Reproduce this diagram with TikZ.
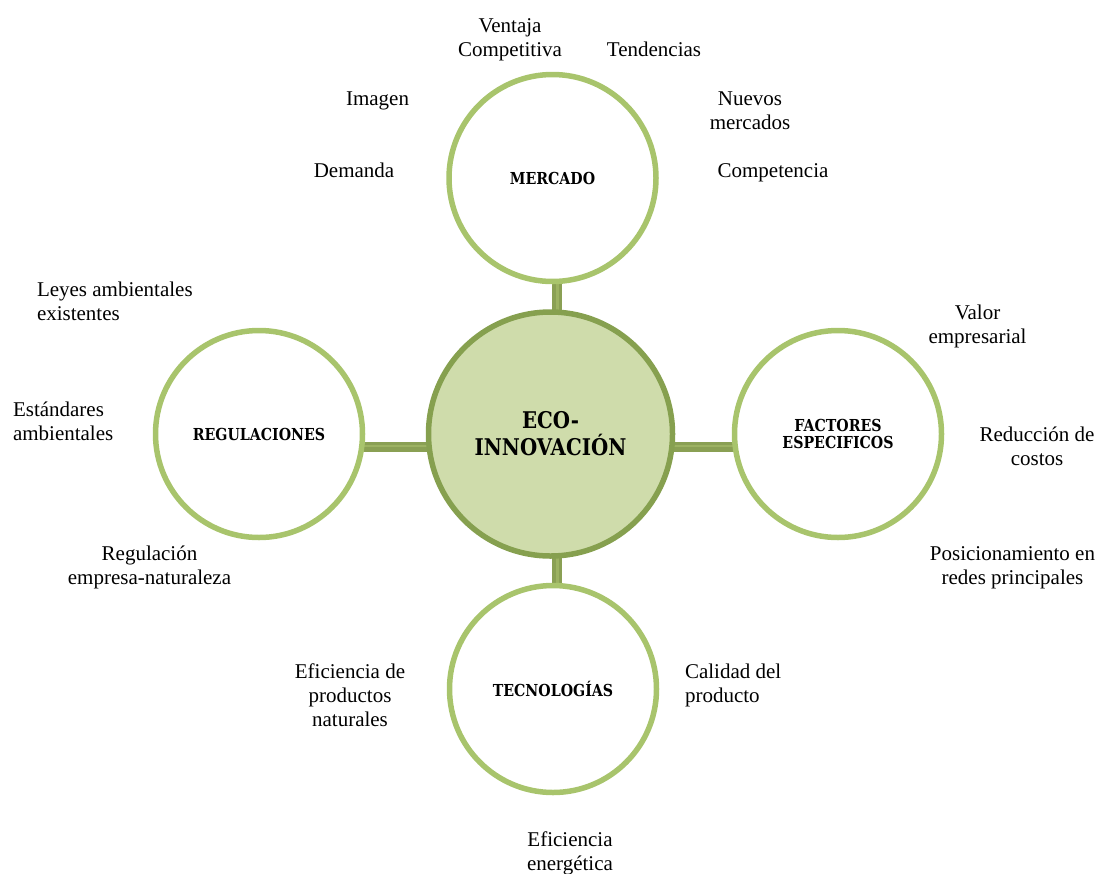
\documentclass[tikz,border=0pt]{standalone}
\usepackage{fontspec}
\setmainfont{Liberation Serif}
\newfontfamily\labelfont[FakeStretch=0.86]{DejaVu Serif}
\usetikzlibrary{backgrounds}
\definecolor{ringgreen}{HTML}{A8C46C}
\definecolor{conngreen}{HTML}{8AA054}
\definecolor{connlight}{HTML}{9CB262}
\definecolor{ecofill}{HTML}{CFDCAB}
\definecolor{ecoring}{HTML}{86A04F}
\tikzset{
  ring/.style={circle, draw=ringgreen, line width=5.5pt, fill=white, minimum size=207pt, inner sep=0pt, outer sep=0pt,
    font=\labelfont\bfseries\fontsize{16.5}{17}\selectfont, align=center},
  ecocircle/.style={circle, draw=ecoring, line width=5.5pt, fill=ecofill, minimum size=244pt, inner sep=0pt, outer sep=0pt,
    font=\labelfont\bfseries\fontsize{23}{27}\selectfont, align=center},
  conn/.style={draw=conngreen, line width=10pt},
  connhi/.style={draw=connlight, line width=2.5pt},
  lbl/.style={inner sep=0pt, outer sep=0pt, font=\fontsize{21}{24}\selectfont, align=center, anchor=base},
  lbll/.style={inner sep=0pt, outer sep=0pt, font=\fontsize{21}{24}\selectfont, align=left, anchor=base west},
}
\begin{document}
\begin{tikzpicture}[x=1pt, y=-1pt]
\useasboundingbox (0,0) rectangle (1099,873);
% circles
\node[ecocircle] (eco) at (550.5,434) {ECO-\\INNOVACIÓN};
\node[ring] (mer) at (552.5,178) {MERCADO};
\node[ring] (reg) at (259,434) {REGULACIONES};
\node[ring] (fac) at (838,434) {FACTORES\\ESPECIFICOS};
\node[ring] (tec) at (553,689) {TECNOLOGÍAS};
% connectors
\coordinate (vx) at (556.5,0);
\coordinate (hy) at (0,447);
\begin{pgfonlayer}{background}
\draw[conn] (mer.center -| vx) -- (eco.center -| vx);
\draw[conn] (eco.center -| vx) -- (tec.center -| vx);
\draw[conn] (reg.center |- hy) -- (eco.center |- hy);
\draw[conn] (eco.center |- hy) -- (fac.center |- hy);
\draw[connhi] ([xshift=1pt]mer.center -| vx) -- ([xshift=1pt]tec.center -| vx);
\draw[connhi] ([yshift=1pt]reg.center |- hy) -- ([yshift=1pt]fac.center |- hy);
\end{pgfonlayer}
% mercado labels (base anchor = baseline of last line)
\node[lbl] (t1) at (510,56) {Ventaja\\Competitiva};
\node[lbl] (t2) at (654,56) {Tendencias};
\node[lbl] (t3) at (377.5,105) {Imagen};
\node[lbl] (t4) at (750,129) {Nuevos\\mercados};
\node[lbl] (t5) at (354,177) {Demanda};
\node[lbl] (t6) at (773,177) {Competencia};
% regulaciones labels
\node[lbll] (t7) at (37,320) {Leyes ambientales\\existentes};
\node[lbll] (t8) at (13,440) {Estándares\\ambientales};
\node[lbl] (t9) at (149.5,584) {Regulación\\empresa-naturaleza};
% factores labels
\node[lbl] (t10) at (977.5,343) {Valor\\empresarial};
\node[lbl] (t11) at (1037,465) {Reducción de\\costos};
\node[lbl] (t12) at (1012.5,584) {Posicionamiento en\\redes principales};
% tecnologias labels
\node[lbl] (t13) at (350,726) {Eficiencia de\\productos\\naturales};
\node[lbll] (t14) at (685,702) {Calidad del\\producto};
\node[lbl] (t15) at (570,870) {Eficiencia\\energética};
\end{tikzpicture}
\end{document}
